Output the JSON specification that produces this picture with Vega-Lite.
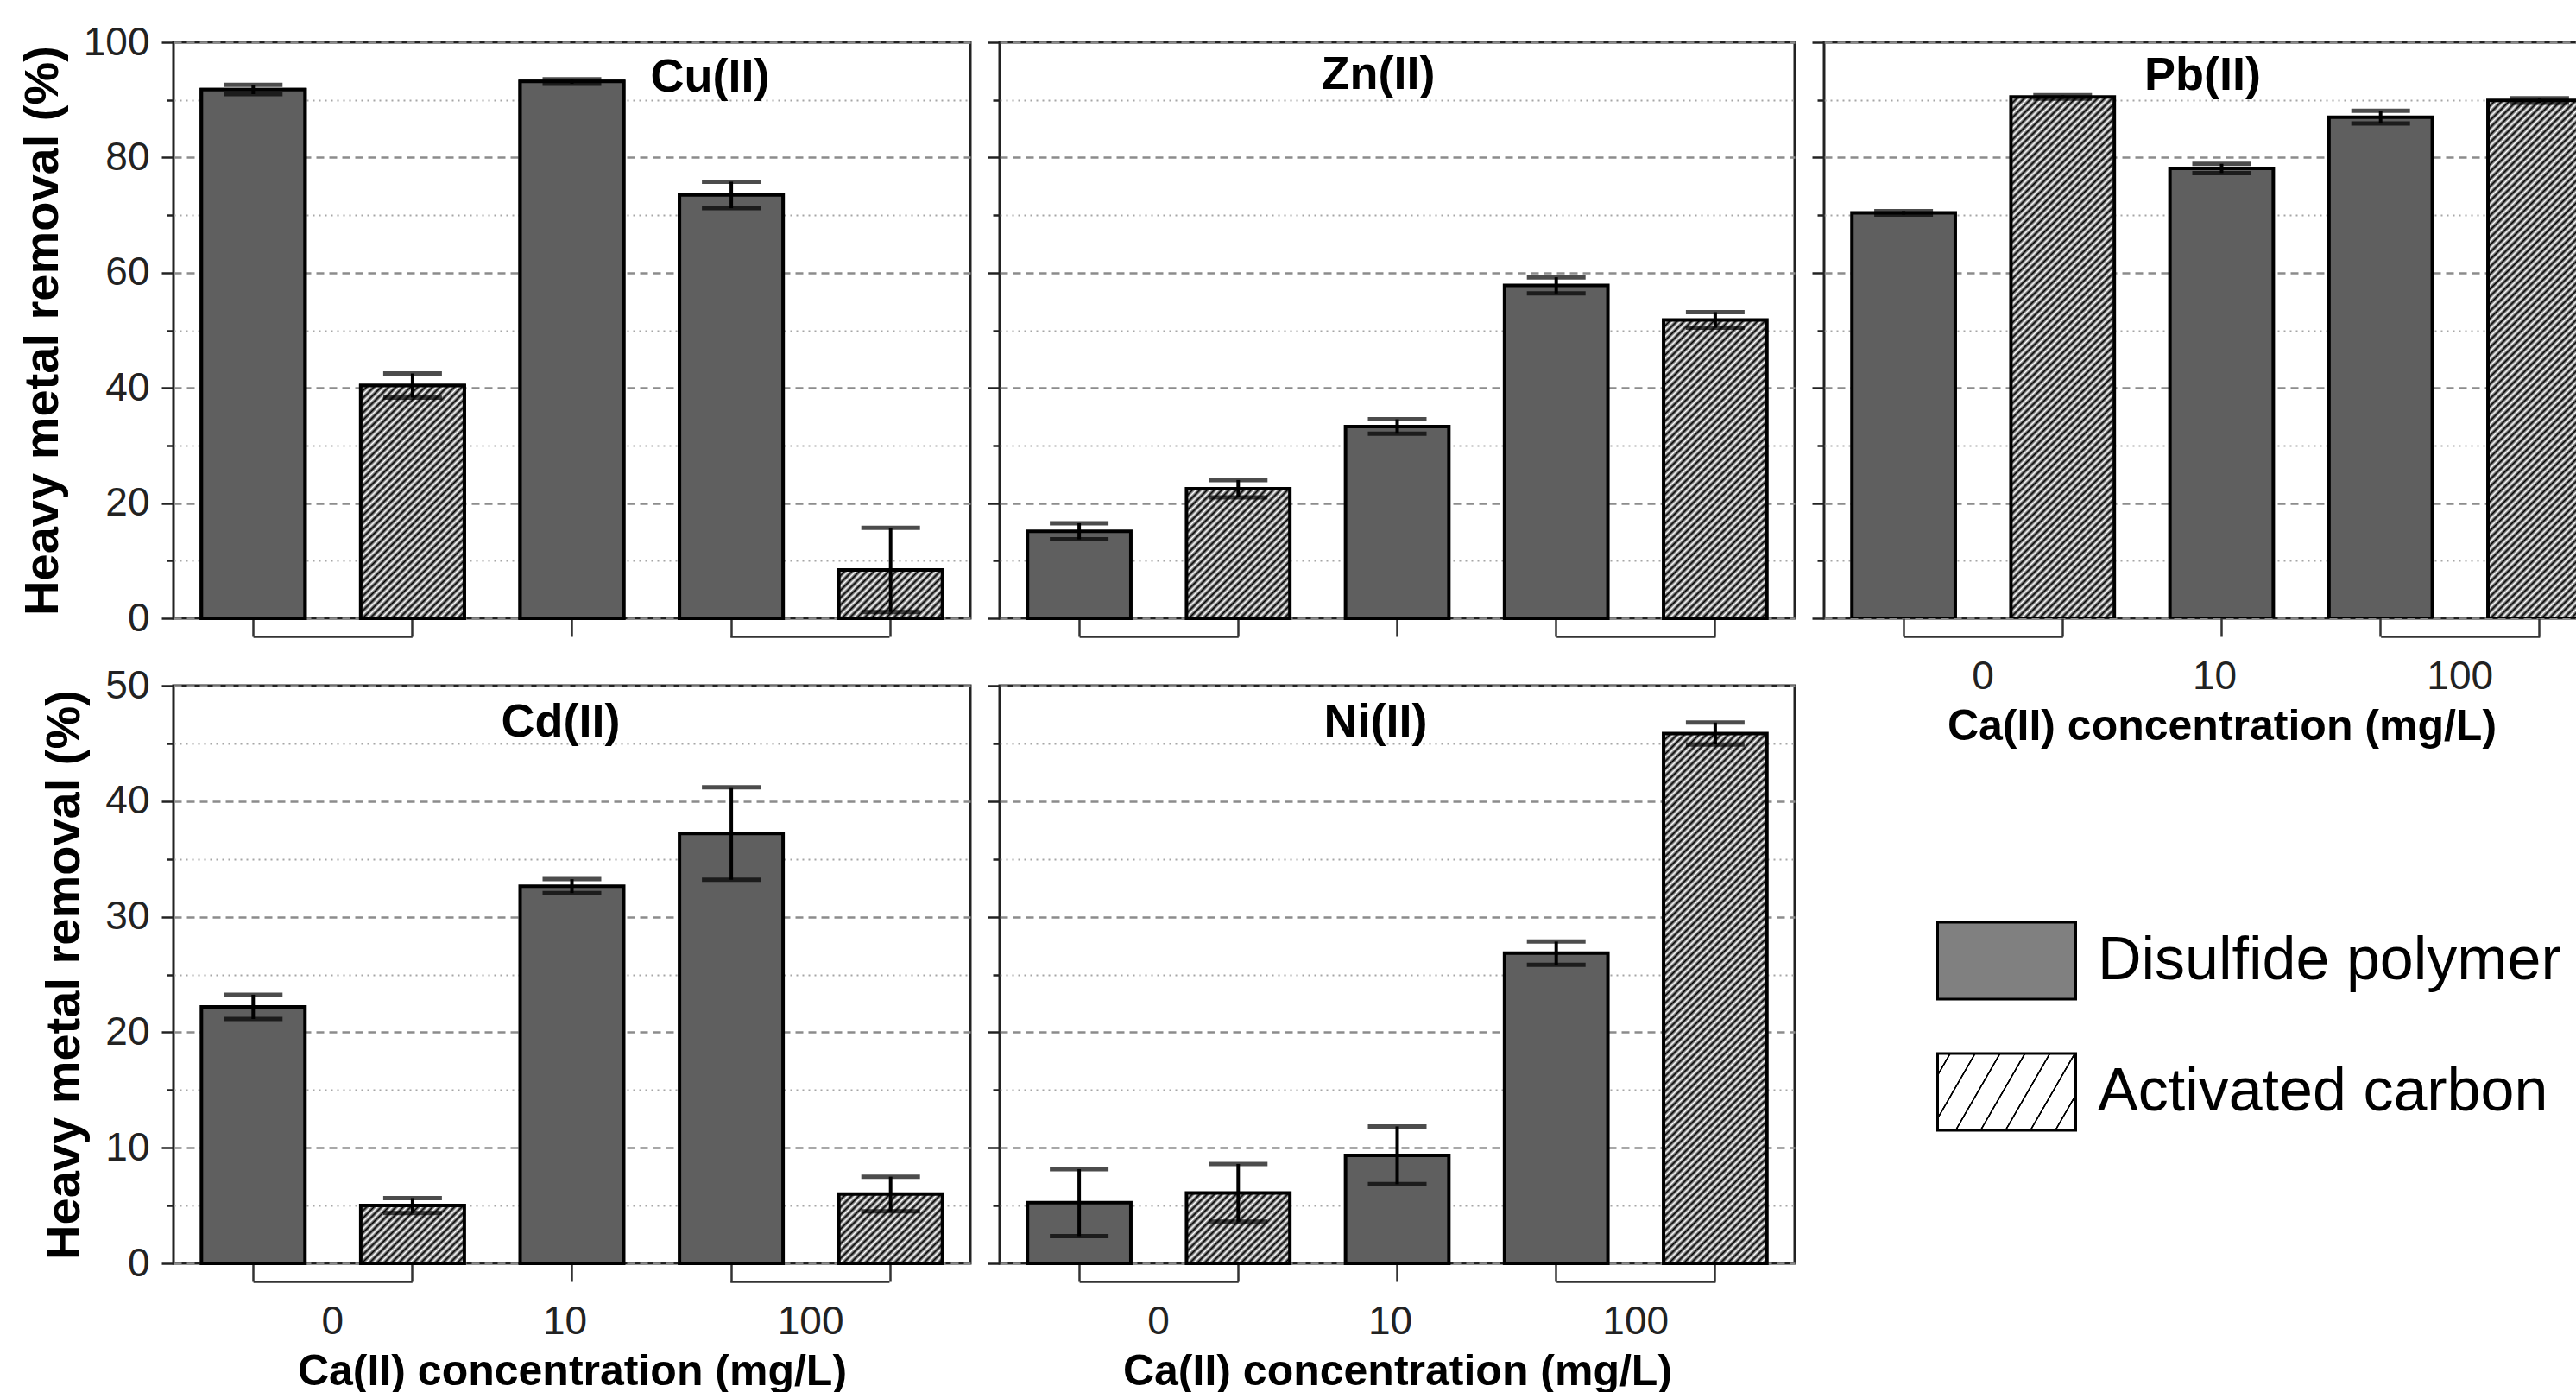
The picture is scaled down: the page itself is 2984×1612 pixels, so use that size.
{
"$schema":"https://vega.github.io/schema/vega-lite/v6.json",
"background":"white",
"padding":{"left":19,"top":24,"right":0,"bottom":0},
"params":[
{"name":"hatch","value":[{"offset":0,"color":"#000"},{"offset":0.005,"color":"#fff"},{"offset":0.01,"color":"#000"},{"offset":0.015,"color":"#fff"},{"offset":0.02,"color":"#000"},{"offset":0.025,"color":"#fff"},{"offset":0.03,"color":"#000"},{"offset":0.035,"color":"#fff"},{"offset":0.04,"color":"#000"},{"offset":0.045,"color":"#fff"},{"offset":0.05,"color":"#000"},{"offset":0.055,"color":"#fff"},{"offset":0.06,"color":"#000"},{"offset":0.065,"color":"#fff"},{"offset":0.07,"color":"#000"},{"offset":0.075,"color":"#fff"},{"offset":0.08,"color":"#000"},{"offset":0.085,"color":"#fff"},{"offset":0.09,"color":"#000"},{"offset":0.095,"color":"#fff"},{"offset":0.1,"color":"#000"},{"offset":0.105,"color":"#fff"},{"offset":0.11,"color":"#000"},{"offset":0.115,"color":"#fff"},{"offset":0.12,"color":"#000"},{"offset":0.125,"color":"#fff"},{"offset":0.13,"color":"#000"},{"offset":0.135,"color":"#fff"},{"offset":0.14,"color":"#000"},{"offset":0.145,"color":"#fff"},{"offset":0.15,"color":"#000"},{"offset":0.155,"color":"#fff"},{"offset":0.16,"color":"#000"},{"offset":0.165,"color":"#fff"},{"offset":0.17,"color":"#000"},{"offset":0.175,"color":"#fff"},{"offset":0.18,"color":"#000"},{"offset":0.185,"color":"#fff"},{"offset":0.19,"color":"#000"},{"offset":0.195,"color":"#fff"},{"offset":0.2,"color":"#000"},{"offset":0.205,"color":"#fff"},{"offset":0.21,"color":"#000"},{"offset":0.215,"color":"#fff"},{"offset":0.22,"color":"#000"},{"offset":0.225,"color":"#fff"},{"offset":0.23,"color":"#000"},{"offset":0.235,"color":"#fff"},{"offset":0.24,"color":"#000"},{"offset":0.245,"color":"#fff"},{"offset":0.25,"color":"#000"},{"offset":0.255,"color":"#fff"},{"offset":0.26,"color":"#000"},{"offset":0.265,"color":"#fff"},{"offset":0.27,"color":"#000"},{"offset":0.275,"color":"#fff"},{"offset":0.28,"color":"#000"},{"offset":0.285,"color":"#fff"},{"offset":0.29,"color":"#000"},{"offset":0.295,"color":"#fff"},{"offset":0.3,"color":"#000"},{"offset":0.305,"color":"#fff"},{"offset":0.31,"color":"#000"},{"offset":0.315,"color":"#fff"},{"offset":0.32,"color":"#000"},{"offset":0.325,"color":"#fff"},{"offset":0.33,"color":"#000"},{"offset":0.335,"color":"#fff"},{"offset":0.34,"color":"#000"},{"offset":0.345,"color":"#fff"},{"offset":0.35,"color":"#000"},{"offset":0.355,"color":"#fff"},{"offset":0.36,"color":"#000"},{"offset":0.365,"color":"#fff"},{"offset":0.37,"color":"#000"},{"offset":0.375,"color":"#fff"},{"offset":0.38,"color":"#000"},{"offset":0.385,"color":"#fff"},{"offset":0.39,"color":"#000"},{"offset":0.395,"color":"#fff"},{"offset":0.4,"color":"#000"},{"offset":0.405,"color":"#fff"},{"offset":0.41,"color":"#000"},{"offset":0.415,"color":"#fff"},{"offset":0.42,"color":"#000"},{"offset":0.425,"color":"#fff"},{"offset":0.43,"color":"#000"},{"offset":0.435,"color":"#fff"},{"offset":0.44,"color":"#000"},{"offset":0.445,"color":"#fff"},{"offset":0.45,"color":"#000"},{"offset":0.455,"color":"#fff"},{"offset":0.46,"color":"#000"},{"offset":0.465,"color":"#fff"},{"offset":0.47,"color":"#000"},{"offset":0.475,"color":"#fff"},{"offset":0.48,"color":"#000"},{"offset":0.485,"color":"#fff"},{"offset":0.49,"color":"#000"},{"offset":0.495,"color":"#fff"},{"offset":0.5,"color":"#000"},{"offset":0.505,"color":"#fff"},{"offset":0.51,"color":"#000"},{"offset":0.515,"color":"#fff"},{"offset":0.52,"color":"#000"},{"offset":0.525,"color":"#fff"},{"offset":0.53,"color":"#000"},{"offset":0.535,"color":"#fff"},{"offset":0.54,"color":"#000"},{"offset":0.545,"color":"#fff"},{"offset":0.55,"color":"#000"},{"offset":0.555,"color":"#fff"},{"offset":0.56,"color":"#000"},{"offset":0.565,"color":"#fff"},{"offset":0.57,"color":"#000"},{"offset":0.575,"color":"#fff"},{"offset":0.58,"color":"#000"},{"offset":0.585,"color":"#fff"},{"offset":0.59,"color":"#000"},{"offset":0.595,"color":"#fff"},{"offset":0.6,"color":"#000"},{"offset":0.605,"color":"#fff"},{"offset":0.61,"color":"#000"},{"offset":0.615,"color":"#fff"},{"offset":0.62,"color":"#000"},{"offset":0.625,"color":"#fff"},{"offset":0.63,"color":"#000"},{"offset":0.635,"color":"#fff"},{"offset":0.64,"color":"#000"},{"offset":0.645,"color":"#fff"},{"offset":0.65,"color":"#000"},{"offset":0.655,"color":"#fff"},{"offset":0.66,"color":"#000"},{"offset":0.665,"color":"#fff"},{"offset":0.67,"color":"#000"},{"offset":0.675,"color":"#fff"},{"offset":0.68,"color":"#000"},{"offset":0.685,"color":"#fff"},{"offset":0.69,"color":"#000"},{"offset":0.695,"color":"#fff"},{"offset":0.7,"color":"#000"},{"offset":0.705,"color":"#fff"},{"offset":0.71,"color":"#000"},{"offset":0.715,"color":"#fff"},{"offset":0.72,"color":"#000"},{"offset":0.725,"color":"#fff"},{"offset":0.73,"color":"#000"},{"offset":0.735,"color":"#fff"},{"offset":0.74,"color":"#000"},{"offset":0.745,"color":"#fff"},{"offset":0.75,"color":"#000"},{"offset":0.755,"color":"#fff"},{"offset":0.76,"color":"#000"},{"offset":0.765,"color":"#fff"},{"offset":0.77,"color":"#000"},{"offset":0.775,"color":"#fff"},{"offset":0.78,"color":"#000"},{"offset":0.785,"color":"#fff"},{"offset":0.79,"color":"#000"},{"offset":0.795,"color":"#fff"},{"offset":0.8,"color":"#000"},{"offset":0.805,"color":"#fff"},{"offset":0.81,"color":"#000"},{"offset":0.815,"color":"#fff"},{"offset":0.82,"color":"#000"},{"offset":0.825,"color":"#fff"},{"offset":0.83,"color":"#000"},{"offset":0.835,"color":"#fff"},{"offset":0.84,"color":"#000"},{"offset":0.845,"color":"#fff"},{"offset":0.85,"color":"#000"},{"offset":0.855,"color":"#fff"},{"offset":0.86,"color":"#000"},{"offset":0.865,"color":"#fff"},{"offset":0.87,"color":"#000"},{"offset":0.875,"color":"#fff"},{"offset":0.88,"color":"#000"},{"offset":0.885,"color":"#fff"},{"offset":0.89,"color":"#000"},{"offset":0.895,"color":"#fff"},{"offset":0.9,"color":"#000"}]},
{"name":"lhatch","value":[{"offset":0,"color":"#fff"},{"offset":0.057,"color":"#fff"},{"offset":0.06,"color":"#000"},{"offset":0.066,"color":"#000"},{"offset":0.069,"color":"#fff"},{"offset":0.182,"color":"#fff"},{"offset":0.185,"color":"#000"},{"offset":0.191,"color":"#000"},{"offset":0.194,"color":"#fff"},{"offset":0.307,"color":"#fff"},{"offset":0.31,"color":"#000"},{"offset":0.316,"color":"#000"},{"offset":0.319,"color":"#fff"},{"offset":0.432,"color":"#fff"},{"offset":0.435,"color":"#000"},{"offset":0.441,"color":"#000"},{"offset":0.444,"color":"#fff"},{"offset":0.557,"color":"#fff"},{"offset":0.56,"color":"#000"},{"offset":0.566,"color":"#000"},{"offset":0.569,"color":"#fff"},{"offset":0.682,"color":"#fff"},{"offset":0.685,"color":"#000"},{"offset":0.691,"color":"#000"},{"offset":0.694,"color":"#fff"},{"offset":0.807,"color":"#fff"},{"offset":0.81,"color":"#000"},{"offset":0.816,"color":"#000"},{"offset":0.819,"color":"#fff"},{"offset":0.932,"color":"#fff"},{"offset":0.935,"color":"#000"},{"offset":0.941,"color":"#000"},{"offset":0.944,"color":"#fff"},{"offset":1,"color":"#fff"}]}
],
"datasets":{
"bars":[
{"metal":"Cu(II)","slot":"0 DP","series":"Disulfide polymer","removal":91.8,"sd":0.8},
{"metal":"Cu(II)","slot":"0 AC","series":"Activated carbon","removal":40.4,"sd":2.1},
{"metal":"Cu(II)","slot":"10 DP","series":"Disulfide polymer","removal":93.2,"sd":0.4},
{"metal":"Cu(II)","slot":"100 DP","series":"Disulfide polymer","removal":73.5,"sd":2.3},
{"metal":"Cu(II)","slot":"100 AC","series":"Activated carbon","removal":8.4,"sd":7.3},
{"metal":"Zn(II)","slot":"0 DP","series":"Disulfide polymer","removal":15.1,"sd":1.4},
{"metal":"Zn(II)","slot":"0 AC","series":"Activated carbon","removal":22.5,"sd":1.5},
{"metal":"Zn(II)","slot":"10 DP","series":"Disulfide polymer","removal":33.3,"sd":1.25},
{"metal":"Zn(II)","slot":"100 DP","series":"Disulfide polymer","removal":57.8,"sd":1.4},
{"metal":"Zn(II)","slot":"100 AC","series":"Activated carbon","removal":51.8,"sd":1.35},
{"metal":"Pb(II)","slot":"0 DP","series":"Disulfide polymer","removal":70.4,"sd":0.3},
{"metal":"Pb(II)","slot":"0 AC","series":"Activated carbon","removal":90.5,"sd":0.3},
{"metal":"Pb(II)","slot":"10 DP","series":"Disulfide polymer","removal":78.1,"sd":0.8},
{"metal":"Pb(II)","slot":"100 DP","series":"Disulfide polymer","removal":87.0,"sd":1.1},
{"metal":"Pb(II)","slot":"100 AC","series":"Activated carbon","removal":89.9,"sd":0.4},
{"metal":"Cd(II)","slot":"0 DP","series":"Disulfide polymer","removal":22.2,"sd":1.05},
{"metal":"Cd(II)","slot":"0 AC","series":"Activated carbon","removal":5.0,"sd":0.65},
{"metal":"Cd(II)","slot":"10 DP","series":"Disulfide polymer","removal":32.65,"sd":0.6},
{"metal":"Cd(II)","slot":"100 DP","series":"Disulfide polymer","removal":37.2,"sd":4.0},
{"metal":"Cd(II)","slot":"100 AC","series":"Activated carbon","removal":6.0,"sd":1.5},
{"metal":"Ni(II)","slot":"0 DP","series":"Disulfide polymer","removal":5.25,"sd":2.9},
{"metal":"Ni(II)","slot":"0 AC","series":"Activated carbon","removal":6.1,"sd":2.5},
{"metal":"Ni(II)","slot":"10 DP","series":"Disulfide polymer","removal":9.35,"sd":2.5},
{"metal":"Ni(II)","slot":"100 DP","series":"Disulfide polymer","removal":26.85,"sd":1.0},
{"metal":"Ni(II)","slot":"100 AC","series":"Activated carbon","removal":45.85,"sd":0.95}
]
},
"config":{
"font":"Liberation Sans",
"view":{"stroke":"#222","strokeWidth":3},
"title":{"font":"Liberation Sans","fontSize":54,"fontWeight":"bold","color":"black","anchor":"middle","frame":"group","baseline":"alphabetic"},
"axis":{"labelFont":"Liberation Sans","titleFont":"Liberation Sans","domain":false,"labelOverlap":false,"labelFlush":false},
"axisX":{"offset":21,"tickSize":-21,"tickWidth":2.5,"tickColor":"#333","domain":true,"domainColor":"#333","domainWidth":2.5,"domainCap":"butt","domainDash":[184.2,368.4,184.2,1000],"domainDashOffset":1644.7,"labelFontSize":46,"labelPadding":45,"labelAngle":0,"labelColor":"#222","titleFontSize":50,"titleFontWeight":"bold","titleColor":"black","titlePadding":10,"grid":false},
"axisY":{"tickWidth":2.5,"tickColor":"#222","labelFontSize":46,"labelPadding":14,"labelColor":"#222","titleFontSize":56,"titleFontWeight":"bold","titleColor":"black","titlePadding":18,"grid":true},
"legend":{"orient":"none","legendX":2042,"legendY":982,"padding":0,"symbolType":"M-1,-0.556L1,-0.556L1,0.556L-1,0.556Z","symbolSize":25600,"symbolStrokeColor":"black","symbolStrokeWidth":3,"labelFont":"Liberation Sans","labelFontSize":70,"labelColor":"black","labelOffset":24,"labelLimit":0,"rowPadding":20}
},
"columns":3,
"spacing":{"row":78,"column":34},
"bounds":"flush",
"concat":[
  {"width":923,"height":667,
   "title":{"text":"Cu(II)","dx":160,"offset":-91},
   "encoding":{
    "x":{"field":"slot","type":"nominal","scale":{"domain":["0 DP","0 AC","10 DP","100 DP","100 AC"],"paddingInner":0.35,"paddingOuter":0.175},"axis":{"labels":false,"title":null}},
    "y":{"field":"removal","type":"quantitative","scale":{"domain":[0,100]},"axis":{"values":[0,10,20,30,40,50,60,70,80,90,100],"labelExpr":"datum.value % 20 === 0 ? datum.label : ''","tickSize":{"condition":{"test":"datum.value % 20 === 0","value":14},"value":8},"gridDash":{"condition":{"test":"datum.value % 20 === 0","value":[9,6]},"value":[2,5]},"gridWidth":{"condition":{"test":"datum.value % 20 === 0","value":2.5},"value":2},"gridColor":{"condition":{"test":"datum.value % 20 === 0","value":"#8c8c8c"},"value":"#a6a6a6"},"title":"Heavy metal removal (%)"}}
   },
   "layer":[
    {"data":{"name":"bars"},"transform":[{"filter":"datum.metal === 'Cu(II)'"}],"mark":{"type":"bar","stroke":"black","strokeWidth":4},
     "encoding":{"fill":{"field":"series","type":"nominal","scale":{"domain":["Disulfide polymer","Activated carbon"],"range":["#808080",{"expr":"{gradient: 'linear', x1: 0, y1: 0, x2: 1.3085, y2: 0.4202, stops: lhatch}"}]},"legend":{"title":null,"labelExpr":"datum.label === 'Activated carbon' ? '\u00a0Activated carbon' : datum.label"}}}},
    {"data":{"name":"bars"},"transform":[{"filter":"datum.metal === 'Cu(II)' && datum.series === 'Disulfide polymer'"}],"mark":{"type":"bar","stroke":"black","strokeWidth":4,"fill":"#5f5f5f"}},
    {"data":{"name":"bars"},"transform":[{"filter":"datum.metal === 'Cu(II)' && datum.series === 'Activated carbon'"}],"mark":{"type":"bar","stroke":"black","strokeWidth":4,"fill":{"expr":"{gradient: 'linear', x1: 0, y1: 0, x2: 848.5*120/(14400+pow(datum.removal*6.67,2)), y2: 848.5*datum.removal*6.67/(14400+pow(datum.removal*6.67,2)), stops: hatch}"}}},
    {"data":{"name":"bars"},"transform":[{"filter":"datum.metal === 'Cu(II)'"}],"mark":{"type":"errorbar","ticks":{"size":68,"thickness":5,"color":"black"},"rule":{"strokeWidth":4,"color":"black"}},"encoding":{"yError":{"field":"sd"}}}
   ]
  },
  {"width":921,"height":667,
   "title":{"text":"Zn(II)","dx":-22,"offset":-66},
   "encoding":{
    "x":{"field":"slot","type":"nominal","scale":{"domain":["0 DP","0 AC","10 DP","100 DP","100 AC"],"paddingInner":0.35,"paddingOuter":0.175},"axis":{"labels":false,"title":null}},
    "y":{"field":"removal","type":"quantitative","scale":{"domain":[0,100]},"axis":{"values":[0,10,20,30,40,50,60,70,80,90,100],"labels":false,"tickSize":{"condition":{"test":"datum.value % 20 === 0","value":14},"value":8},"gridDash":{"condition":{"test":"datum.value % 20 === 0","value":[9,6]},"value":[2,5]},"gridWidth":{"condition":{"test":"datum.value % 20 === 0","value":2.5},"value":2},"gridColor":{"condition":{"test":"datum.value % 20 === 0","value":"#8c8c8c"},"value":"#a6a6a6"},"title":null}}
   },
   "layer":[
    {"data":{"name":"bars"},"transform":[{"filter":"datum.metal === 'Zn(II)' && datum.series === 'Disulfide polymer'"}],"mark":{"type":"bar","stroke":"black","strokeWidth":4,"fill":"#5f5f5f"}},
    {"data":{"name":"bars"},"transform":[{"filter":"datum.metal === 'Zn(II)' && datum.series === 'Activated carbon'"}],"mark":{"type":"bar","stroke":"black","strokeWidth":4,"fill":{"expr":"{gradient: 'linear', x1: 0, y1: 0, x2: 848.5*119.73/(14335+pow(datum.removal*6.67,2)), y2: 848.5*datum.removal*6.67/(14335+pow(datum.removal*6.67,2)), stops: hatch}"}}},
    {"data":{"name":"bars"},"transform":[{"filter":"datum.metal === 'Zn(II)'"}],"mark":{"type":"errorbar","ticks":{"size":68,"thickness":5,"color":"black"},"rule":{"strokeWidth":4,"color":"black"}},"encoding":{"yError":{"field":"sd"}}}
   ]
  },
  {"width":875,"height":667,
   "title":{"text":"Pb(II)","dx":1,"offset":-67},
   "encoding":{
    "x":{"field":"slot","type":"nominal","scale":{"domain":["0 DP","0 AC","10 DP","100 DP","100 AC"],"paddingInner":0.35,"paddingOuter":0.175,"range":[0,921]},"axis":{"labelExpr":"datum.value === '0 DP' ? '0' : datum.value === '10 DP' ? '10' : datum.value === '100 DP' ? '100' : ''","labelOffset":{"condition":{"test":"datum.value === '10 DP'","value":-8},"value":92},"title":"Ca(II) concentration (mg/L)"}},
    "y":{"field":"removal","type":"quantitative","scale":{"domain":[0,100]},"axis":{"values":[0,10,20,30,40,50,60,70,80,90,100],"labels":false,"tickSize":{"condition":{"test":"datum.value % 20 === 0","value":14},"value":8},"gridDash":{"condition":{"test":"datum.value % 20 === 0","value":[9,6]},"value":[2,5]},"gridWidth":{"condition":{"test":"datum.value % 20 === 0","value":2.5},"value":2},"gridColor":{"condition":{"test":"datum.value % 20 === 0","value":"#8c8c8c"},"value":"#a6a6a6"},"title":null}}
   },
   "layer":[
    {"data":{"name":"bars"},"transform":[{"filter":"datum.metal === 'Pb(II)' && datum.series === 'Disulfide polymer'"}],"mark":{"type":"bar","stroke":"black","strokeWidth":4,"fill":"#5f5f5f","clip":true}},
    {"data":{"name":"bars"},"transform":[{"filter":"datum.metal === 'Pb(II)' && datum.series === 'Activated carbon'"}],"mark":{"type":"bar","stroke":"black","strokeWidth":4,"clip":true,"fill":{"expr":"{gradient: 'linear', x1: 0, y1: 0, x2: 848.5*119.73/(14335+pow(datum.removal*6.67,2)), y2: 848.5*datum.removal*6.67/(14335+pow(datum.removal*6.67,2)), stops: hatch}"}}},
    {"data":{"name":"bars"},"transform":[{"filter":"datum.metal === 'Pb(II)'"}],"mark":{"type":"errorbar","ticks":{"size":68,"thickness":5,"color":"black"},"rule":{"strokeWidth":4,"color":"black"}},"encoding":{"yError":{"field":"sd"}}}
   ]
  },
  {"width":923,"height":669,
   "title":{"text":"Cd(II)","dx":-13,"offset":-93},
   "encoding":{
    "x":{"field":"slot","type":"nominal","scale":{"domain":["0 DP","0 AC","10 DP","100 DP","100 AC"],"paddingInner":0.35,"paddingOuter":0.175},"axis":{"labelExpr":"datum.value === '0 DP' ? '0' : datum.value === '10 DP' ? '10' : datum.value === '100 DP' ? '100' : ''","labelOffset":{"condition":{"test":"datum.value === '10 DP'","value":-8},"value":92},"title":"Ca(II) concentration (mg/L)"}},
    "y":{"field":"removal","type":"quantitative","scale":{"domain":[0,50]},"axis":{"values":[0,5,10,15,20,25,30,35,40,45,50],"labelExpr":"datum.value % 10 === 0 ? datum.label : ''","tickSize":{"condition":{"test":"datum.value % 10 === 0","value":14},"value":8},"gridDash":{"condition":{"test":"datum.value % 10 === 0","value":[9,6]},"value":[2,5]},"gridWidth":{"condition":{"test":"datum.value % 10 === 0","value":2.5},"value":2},"gridColor":{"condition":{"test":"datum.value % 10 === 0","value":"#8c8c8c"},"value":"#a6a6a6"},"title":"Heavy metal removal (%)"}}
   },
   "layer":[
    {"data":{"name":"bars"},"transform":[{"filter":"datum.metal === 'Cd(II)' && datum.series === 'Disulfide polymer'"}],"mark":{"type":"bar","stroke":"black","strokeWidth":4,"fill":"#5f5f5f"}},
    {"data":{"name":"bars"},"transform":[{"filter":"datum.metal === 'Cd(II)' && datum.series === 'Activated carbon'"}],"mark":{"type":"bar","stroke":"black","strokeWidth":4,"fill":{"expr":"{gradient: 'linear', x1: 0, y1: 0, x2: 848.5*120/(14400+pow(datum.removal*13.38,2)), y2: 848.5*datum.removal*13.38/(14400+pow(datum.removal*13.38,2)), stops: hatch}"}}},
    {"data":{"name":"bars"},"transform":[{"filter":"datum.metal === 'Cd(II)'"}],"mark":{"type":"errorbar","ticks":{"size":68,"thickness":5,"color":"black"},"rule":{"strokeWidth":4,"color":"black"}},"encoding":{"yError":{"field":"sd"}}}
   ]
  },
  {"width":921,"height":669,
   "title":{"text":"Ni(II)","dx":-25,"offset":-71},
   "encoding":{
    "x":{"field":"slot","type":"nominal","scale":{"domain":["0 DP","0 AC","10 DP","100 DP","100 AC"],"paddingInner":0.35,"paddingOuter":0.175},"axis":{"labelExpr":"datum.value === '0 DP' ? '0' : datum.value === '10 DP' ? '10' : datum.value === '100 DP' ? '100' : ''","labelOffset":{"condition":{"test":"datum.value === '10 DP'","value":-8},"value":92},"title":"Ca(II) concentration (mg/L)"}},
    "y":{"field":"removal","type":"quantitative","scale":{"domain":[0,50]},"axis":{"values":[0,5,10,15,20,25,30,35,40,45,50],"labels":false,"tickSize":{"condition":{"test":"datum.value % 10 === 0","value":14},"value":8},"gridDash":{"condition":{"test":"datum.value % 10 === 0","value":[9,6]},"value":[2,5]},"gridWidth":{"condition":{"test":"datum.value % 10 === 0","value":2.5},"value":2},"gridColor":{"condition":{"test":"datum.value % 10 === 0","value":"#8c8c8c"},"value":"#a6a6a6"},"title":null}}
   },
   "layer":[
    {"data":{"name":"bars"},"transform":[{"filter":"datum.metal === 'Ni(II)' && datum.series === 'Disulfide polymer'"}],"mark":{"type":"bar","stroke":"black","strokeWidth":4,"fill":"#5f5f5f"}},
    {"data":{"name":"bars"},"transform":[{"filter":"datum.metal === 'Ni(II)' && datum.series === 'Activated carbon'"}],"mark":{"type":"bar","stroke":"black","strokeWidth":4,"fill":{"expr":"{gradient: 'linear', x1: 0, y1: 0, x2: 848.5*119.73/(14335+pow(datum.removal*13.38,2)), y2: 848.5*datum.removal*13.38/(14335+pow(datum.removal*13.38,2)), stops: hatch}"}}},
    {"data":{"name":"bars"},"transform":[{"filter":"datum.metal === 'Ni(II)'"}],"mark":{"type":"errorbar","ticks":{"size":68,"thickness":5,"color":"black"},"rule":{"strokeWidth":4,"color":"black"}},"encoding":{"yError":{"field":"sd"}}}
   ]
  }
]
}
